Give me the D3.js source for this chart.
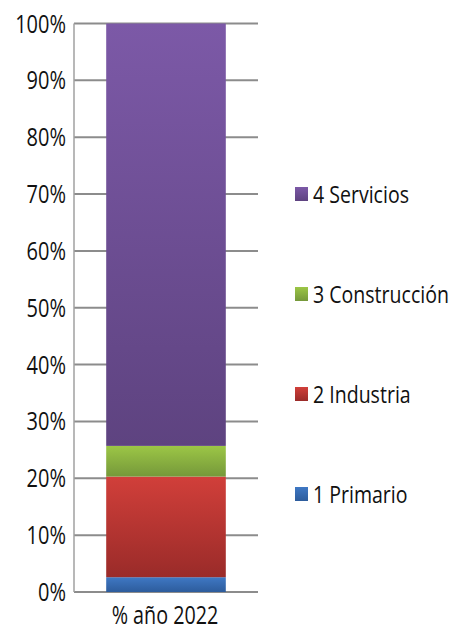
<!DOCTYPE html>
<html>
<head>
<meta charset="utf-8">
<script src="https://cdn.jsdelivr.net/npm/d3@7"></script>
<style>
  body { margin: 0; background: #fff; }
  text { font-family: "Open Sans", sans-serif; fill: #111; }
</style>
</head>
<body>
<div id="chart"></div>
<script>
// datos del gráfico
const categoria = ["% año 2022"];
const sectores = ["1 Primario", "2 Industria", "3 Construcción", "4 Servicios"];
const valores = [2.6, 17.7, 5.4, 74.3];
const ticks = [0, 10, 20, 30, 40, 50, 60, 70, 80, 90, 100];
const colores_top = ["#3f78c4", "#d13f3a", "#9cc646", "#7c59a7"];
const colores_bottom = ["#2d5c9c", "#9a2b29", "#75983a", "#5e4380"];

const width = 450, height = 632;
const plotLeft = 74, plotRight = 258, plotTop = 23.5, plotBottom = 592;

const svg = d3.select("#chart").append("svg")
  .attr("width", width)
  .attr("height", height);

const defs = svg.append("defs");
sectores.forEach(function(s, i){
  let g = defs.append("linearGradient")
    .attr("id", "grad" + i)
    .attr("x1", 0).attr("y1", 0).attr("x2", 0).attr("y2", 1);
  g.append("stop").attr("offset", "0%").attr("stop-color", colores_top[i]);
  g.append("stop").attr("offset", "100%").attr("stop-color", colores_bottom[i]);
});

const y = d3.scaleLinear().domain([0, 100]).range([plotBottom, plotTop]);
const x = d3.scaleBand().domain(categoria).range([plotLeft, plotRight]).paddingInner(0.35).paddingOuter(0.175);

// líneas de la cuadrícula
svg.selectAll("line.grid").data(ticks).enter()
  .append("line")
  .attr("class", "grid")
  .attr("x1", plotLeft).attr("x2", plotRight)
  .attr("y1", d => y(d)).attr("y2", d => y(d))
  .attr("stroke", "#8c8c8c")
  .attr("stroke-width", 2);

// eje vertical
svg.append("line")
  .attr("x1", plotLeft).attr("x2", plotLeft)
  .attr("y1", y(100)).attr("y2", y(0))
  .attr("stroke", "#a0a0a0")
  .attr("stroke-width", 1.5);

// etiquetas del eje (texto comprimido como Calibri)
svg.selectAll("g.tick").data(ticks).enter()
  .append("g")
  .attr("class", "tick")
  .attr("transform", d => "translate(66," + (y(d) + 9) + ") scale(0.8,1)")
  .append("text")
  .attr("text-anchor", "end")
  .style("font-size", "25px")
  .text(d => d + "%");

// barras apiladas
let stack = [];
let acum = 0;
valores.forEach(function(v, i){
  stack.push({i: i, y0: acum, y1: acum + v});
  acum += v;
});

svg.selectAll("rect.bar").data(stack).enter()
  .append("rect")
  .attr("class", "bar")
  .attr("x", x(categoria[0]))
  .attr("width", x.bandwidth())
  .attr("y", d => y(d.y1))
  .attr("height", d => y(d.y0) - y(d.y1))
  .attr("fill", d => "url(#grad" + d.i + ")");

svg.append("g")
  .attr("transform", "translate(" + (x(categoria[0]) + x.bandwidth() / 2 - 1) + ",624) scale(0.76,1)")
  .append("text")
  .attr("text-anchor", "middle")
  .style("font-size", "26px")
  .text(categoria[0]);

// leyenda
const legendY = d3.scalePoint().domain(sectores.slice().reverse()).range([194, 494]);
let items = svg.selectAll("g.legend").data(sectores).enter()
  .append("g")
  .attr("class", "legend")
  .attr("transform", d => "translate(295," + legendY(d) + ")");

items.append("rect")
  .attr("x", 0).attr("y", -7)
  .attr("width", 13).attr("height", 14)
  .attr("fill", (d, i) => "url(#grad" + i + ")");

let legendText = items.append("g")
  .append("text")
  .style("font-size", "24px")
  .text(d => d);

// ajustar la compresión para que el texto más largo quepa
let maxLen = d3.max(legendText.nodes(), n => n.getComputedTextLength());
let escala = Math.min(0.85, (width - 295 - 18 - 1) / maxLen);
items.select("g").attr("transform", "translate(18,9) scale(" + escala + ",1)");
</script>
</body>
</html>
